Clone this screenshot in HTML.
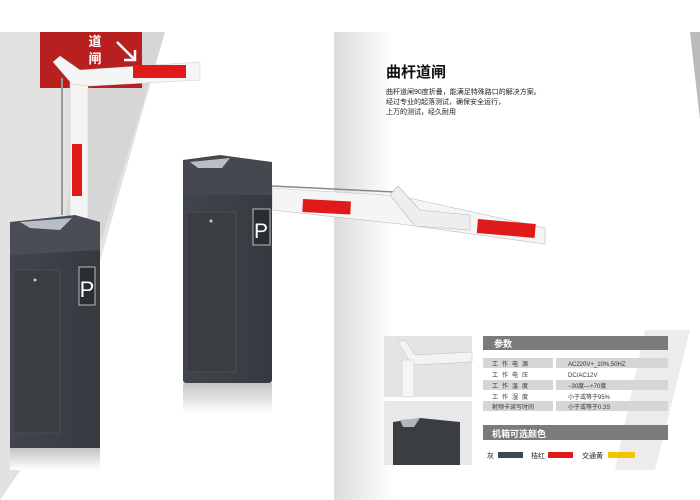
<!DOCTYPE html>
<html><head><meta charset="utf-8"><style>
html,body{margin:0;padding:0;background:#fff;}
svg{display:block;}
text{font-family:"Liberation Sans","Noto Sans CJK SC",sans-serif;}
</style></head><body>
<svg width="700" height="500" viewBox="0 0 700 500" xmlns="http://www.w3.org/2000/svg">
<defs>
<linearGradient id="rp" x1="0" x2="1"><stop offset="0" stop-color="#dcdcdc"/><stop offset="1" stop-color="#fff"/></linearGradient>
<linearGradient id="cab" x1="0" x2="1"><stop offset="0" stop-color="#40454c"/><stop offset="1" stop-color="#363a40"/></linearGradient>
<linearGradient id="refl" x1="0" x2="0" y1="0" y2="1"><stop offset="0" stop-color="#c4c4c4"/><stop offset="1" stop-color="#fff"/></linearGradient>
</defs>
<rect x="0" y="32" width="334" height="468" fill="#fff"/>
<polygon points="0,32 165,32 55,420 0,500" fill="#e2e2e2"/>
<polygon points="90,32 165,32 95,260 60,260" fill="#cfcfcf" opacity="0.6"/>
<rect x="334" y="32" width="366" height="468" fill="#fff"/>
<rect x="334" y="32" width="60" height="468" fill="url(#rp)"/>
<polygon points="690,32 700,32 700,120" fill="#bbb"/>
<polygon points="645,330 690,330 655,470 615,470" fill="#ececec"/>
<!-- red banner -->
<rect x="40" y="32" width="102" height="56" fill="#b82020"/>
<text x="95" y="46" font-size="13" font-weight="bold" fill="#fff" text-anchor="middle">道</text>
<text x="95" y="63" font-size="13" font-weight="bold" fill="#fff" text-anchor="middle">闸</text>
<path d="M117 42 L135 60 M135 50 L135 60 L124 60" stroke="#fff" stroke-width="2.5" fill="none"/>
<!-- left arm -->
<line x1="62" y1="78" x2="62" y2="215" stroke="#999" stroke-width="2"/>
<rect x="70" y="80" width="18" height="138" fill="#f4f4f4" stroke="#ccc" stroke-width="0.5"/>
<rect x="72" y="144" width="10" height="52" fill="#e01a1a"/>
<polygon points="53,62 60,56 80,70 200,62 200,80 90,86 72,84" fill="#f5f5f5" stroke="#ccc" stroke-width="0.5"/>
<rect x="133" y="65" width="53" height="13" fill="#e01a1a"/>
<!-- left cabinet -->
<rect x="10" y="230" width="90" height="218" fill="url(#cab)"/>
<polygon points="10,222 75,215 100,222 100,250 10,255" fill="#4a4e54"/>
<polygon points="20,222 72,218 60,230 30,228" fill="#b8bec6"/>
<rect x="13" y="270" width="47" height="163" fill="#3a3e43" stroke="#555" stroke-width="0.6"/>
<circle cx="35" cy="280" r="1.5" fill="#ccc"/>
<rect x="79" y="267" width="16" height="38" fill="#2a2d31" stroke="#ddd" stroke-width="0.8"/>
<text x="87" y="297" font-size="22" fill="#fff" text-anchor="middle">P</text>
<rect x="10" y="448" width="90" height="22" fill="url(#refl)"/>
<!-- middle arm -->
<polygon points="272,188 400,196 545,228 545,244 400,224 272,210" fill="#f5f5f5" stroke="#bbb" stroke-width="0.6"/>
<line x1="272" y1="186" x2="395" y2="192" stroke="#888" stroke-width="1.5"/>
<rect x="303" y="199" width="48" height="13" fill="#e01a1a" transform="rotate(3 303 199)"/>
<rect x="478" y="219" width="58" height="14" fill="#e01a1a" transform="rotate(5 478 219)"/>
<polygon points="390,195 398,186 420,210 470,215 470,230 415,226" fill="#eee" stroke="#bbb" stroke-width="0.6"/>
<!-- middle cabinet -->
<rect x="183" y="165" width="89" height="218" fill="url(#cab)" rx="3"/>
<polygon points="183,160 220,155 272,162 272,195 183,195" fill="#45494f"/>
<polygon points="190,162 230,158 222,168 198,168" fill="#b8bec6"/>
<rect x="187" y="212" width="49" height="160" fill="#3a3e43" stroke="#555" stroke-width="0.6"/>
<circle cx="211" cy="221" r="1.5" fill="#ccc"/>
<rect x="253" y="209" width="17" height="36" fill="#2a2d31" stroke="#ddd" stroke-width="0.8"/>
<text x="261" y="238" font-size="21" fill="#fff" text-anchor="middle">P</text>
<rect x="183" y="383" width="89" height="30" fill="url(#refl)"/>
<!-- right text -->
<text x="386" y="77" font-size="15" font-weight="bold" fill="#111">曲杆道闸</text>
<text x="386" y="94" font-size="7" fill="#222">曲杆道闸90度折叠，能满足特殊路口的解决方案。</text>
<text x="386" y="104" font-size="7" fill="#222">经过专业的起落测试，确保安全运行，</text>
<text x="386" y="114" font-size="7" fill="#222">上万的测试，经久耐用</text>
<!-- thumbnails -->
<rect x="384" y="336" width="88" height="61" fill="#e4e4e4"/>
<polygon points="398,342 405,340 415,355 472,352 472,362 412,365" fill="#f3f3f3" stroke="#bbb" stroke-width="0.5"/>
<rect x="402" y="360" width="12" height="37" fill="#f5f5f5" stroke="#ccc" stroke-width="0.5"/>
<rect x="384" y="401" width="88" height="64" fill="#e8e8e8"/>
<polygon points="393,422 420,418 460,422 460,465 393,465" fill="#3a3e43"/>
<polygon points="400,420 420,418 414,427 403,427" fill="#b0b6be"/>
<!-- params -->
<rect x="483" y="336" width="185" height="14" fill="#7b7b7b"/>
<text x="494" y="347" font-size="9" font-weight="bold" fill="#fff">参数</text>
<g font-size="6" fill="#333">
<rect x="483" y="358" width="70" height="10" fill="#d6d6d6"/><rect x="556" y="358" width="112" height="10" fill="#d6d6d6"/>
<rect x="483" y="380" width="70" height="10" fill="#d6d6d6"/><rect x="556" y="380" width="112" height="10" fill="#d6d6d6"/>
<rect x="483" y="401" width="70" height="10" fill="#d6d6d6"/><rect x="556" y="401" width="112" height="10" fill="#d6d6d6"/>
<text x="492" y="366" letter-spacing="4">工作电源</text><text x="568" y="366">AC220V+_10%.50HZ</text>
<text x="492" y="377" letter-spacing="4">工作电压</text><text x="568" y="377">DC/AC12V</text>
<text x="492" y="388" letter-spacing="4">工作温度</text><text x="568" y="388">−30度—+70度</text>
<text x="492" y="399" letter-spacing="4">工作湿度</text><text x="568" y="399">小于或等于95%</text>
<text x="492" y="409">射频卡读写时间</text><text x="568" y="409">小于或等于0.3S</text>
</g>
<rect x="483" y="425" width="185" height="15" fill="#7b7b7b"/>
<text x="492" y="437" font-size="9" font-weight="bold" fill="#fff">机箱可选颜色</text>
<text x="487" y="458" font-size="7" fill="#222">灰</text>
<rect x="498" y="452" width="25" height="6" fill="#3e4850"/>
<text x="531" y="458" font-size="7" fill="#222">桔红</text>
<rect x="548" y="452" width="25" height="6" fill="#e01a1a"/>
<text x="582" y="458" font-size="7" fill="#222">交通黄</text>
<rect x="608" y="452" width="27" height="6" fill="#f5c400"/>
</svg>
</body></html>
